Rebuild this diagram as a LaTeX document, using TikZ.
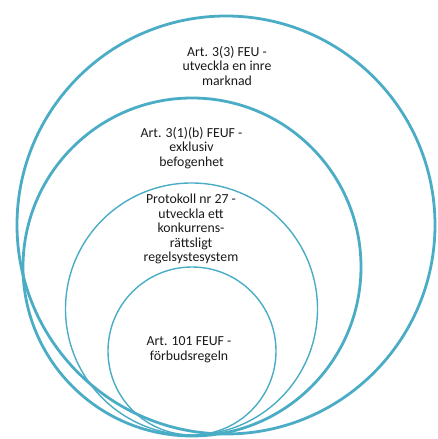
\documentclass[tikz,border=0pt]{standalone}
\usepackage{fontspec}
\setmainfont{Carlito}
\begin{document}
\begin{tikzpicture}[x=1pt,y=1pt,
  ring/.style={circle,draw=ringc,inner sep=0pt,fill=none},
  thickring/.style={ring,line width=2.8pt},
  thinring/.style={ring,line width=1.4pt},
  lbl/.style={align=center,font=\fontsize{13.8}{14.6}\selectfont,text=black!90,inner sep=0pt}]
\definecolor{ringc}{HTML}{4BACC6}
\useasboundingbox (0,0) rectangle (437,439);
\node[thickring,minimum size=418pt] (c1) at (226,214) {};
\node[thickring,minimum size=338pt] (c2) at (192,172) {};
\node[thinring,minimum size=252pt] (c3) at (191.5,130) {};
\node[thinring,minimum size=168pt] (c4) at (192,88) {};
\node[lbl] (t1) at (227,373) {Art. 3(3) FEU -\\utveckla en inre\\marknad};
\node[lbl] (t2) at (191.5,291) {Art. 3(1)(b) FEUF -\\exklusiv\\befogenhet};
\node[lbl] (t3) at (191,210) {Protokoll nr 27 -\\utveckla ett\\konkurrens-\\rättsligt\\regelsystesystem};
\node[lbl] (t4) at (189,89) {Art. 101 FEUF -\\förbudsregeln};
\end{tikzpicture}
\end{document}
